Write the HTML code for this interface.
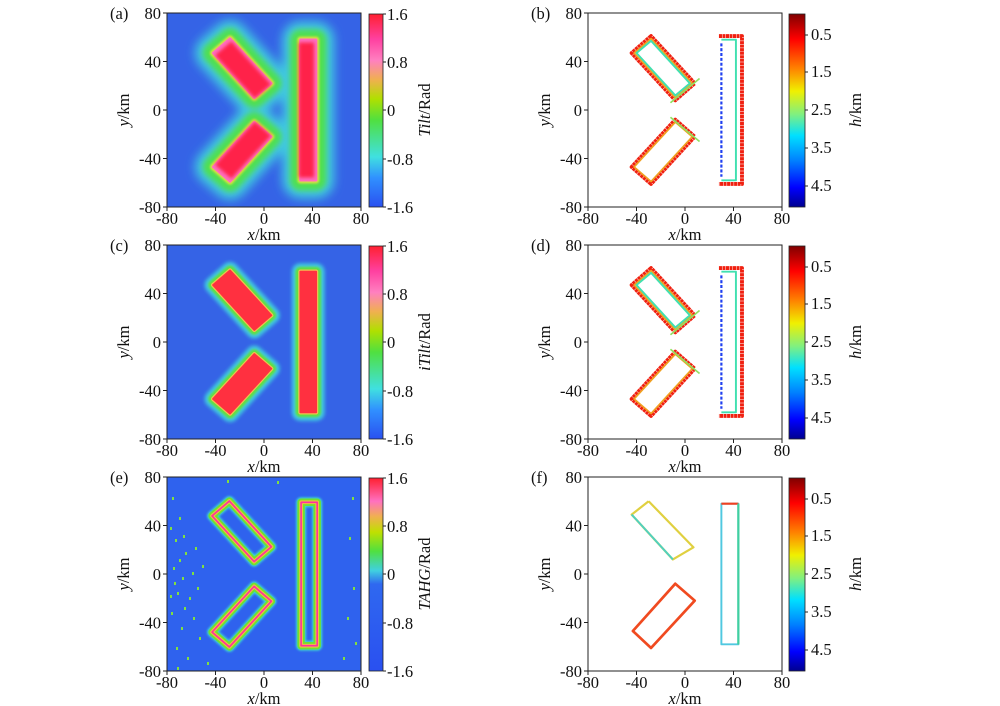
<!DOCTYPE html>
<html><head><meta charset="utf-8"><style>
html,body{margin:0;padding:0;background:#fff}
svg{display:block}
text{font-family:"Liberation Serif",serif;font-size:16.5px;fill:#111}
</style></head><body>
<svg width="1000" height="706" viewBox="0 0 1000 706" xmlns="http://www.w3.org/2000/svg">
<defs>
<linearGradient id="gL" x1="0" y1="1" x2="0" y2="0">
<stop offset="0" stop-color="#2a50f0"/><stop offset="0.15" stop-color="#3090ff"/><stop offset="0.26" stop-color="#40e0e0"/><stop offset="0.45" stop-color="#50e040"/><stop offset="0.56" stop-color="#b0e000"/><stop offset="0.66" stop-color="#f0b050"/><stop offset="0.76" stop-color="#ff80c0"/><stop offset="0.87" stop-color="#ff40a0"/><stop offset="1" stop-color="#ff2030"/>
</linearGradient>
<linearGradient id="gE" x1="0" y1="1" x2="0" y2="0">
<stop offset="0" stop-color="#2a50f0"/><stop offset="0.45" stop-color="#2f68f0"/><stop offset="0.52" stop-color="#40d0e0"/><stop offset="0.62" stop-color="#50e040"/><stop offset="0.72" stop-color="#c0e000"/><stop offset="0.8" stop-color="#f0b050"/><stop offset="0.88" stop-color="#ff70c0"/><stop offset="1" stop-color="#ff2030"/>
</linearGradient>
<linearGradient id="gR" x1="0" y1="0" x2="0" y2="1">
<stop offset="0" stop-color="#800000"/><stop offset="0.13" stop-color="#ff0000"/><stop offset="0.28" stop-color="#ff8000"/><stop offset="0.4" stop-color="#f0f000"/><stop offset="0.52" stop-color="#80f080"/><stop offset="0.63" stop-color="#00e0ff"/><stop offset="0.76" stop-color="#0080ff"/><stop offset="0.9" stop-color="#0000ff"/><stop offset="1" stop-color="#000090"/>
</linearGradient>
<clipPath id="cp"><rect x="0" y="0" width="194" height="194"/></clipPath>
<filter id="b6" x="-50%" y="-50%" width="200%" height="200%"><feGaussianBlur stdDeviation="4"/></filter>
<filter id="b4" x="-50%" y="-50%" width="200%" height="200%"><feGaussianBlur stdDeviation="2.5"/></filter>
<filter id="b2" x="-50%" y="-50%" width="200%" height="200%"><feGaussianBlur stdDeviation="1.5"/></filter>
<filter id="b1" x="-50%" y="-50%" width="200%" height="200%"><feGaussianBlur stdDeviation="0.8"/></filter>
<g id="shapes">
<polygon points="-28,59 -42,47 -8,10 6,22"/>
<polygon points="-28,-59 -42,-47 -8,-10 6,-22"/>
<polygon points="30,58 43,58 43,-58 30,-58"/>
</g>
<g id="axes">
<rect x="0" y="0" width="194" height="194" fill="none" stroke="#222" stroke-width="1"/>
<path d="M0,194v4M48.5,194v4M97,194v4M145.5,194v4M194,194v4M0,0h-4M0,48.5h-4M0,97h-4M0,145.5h-4M0,194h-4" stroke="#222"/>
<text x="-6" y="6" text-anchor="end">80</text>
<text x="-6" y="54.5" text-anchor="end">40</text>
<text x="-6" y="103" text-anchor="end">0</text>
<text x="-6" y="151.5" text-anchor="end">-40</text>
<text x="-6" y="200" text-anchor="end">-80</text>
<text x="0" y="211" text-anchor="middle">-80</text>
<text x="48.5" y="211" text-anchor="middle">-40</text>
<text x="97" y="211" text-anchor="middle">0</text>
<text x="145.5" y="211" text-anchor="middle">40</text>
<text x="194" y="211" text-anchor="middle">80</text>
<text x="97" y="227" text-anchor="middle"><tspan font-style="italic">x</tspan>/km</text>
<text transform="translate(-38,97) rotate(-90)" text-anchor="middle"><tspan font-style="italic">y</tspan>/km</text>
</g>
<g id="cbL">
<rect x="202" y="1" width="14" height="193" fill="url(#gL)" stroke="#222" stroke-width="0.8"/>
<path d="M216,1h3M216,49h3M216,97h3M216,146h3M216,194h3" stroke="#222"/>
<text x="220" y="7">1.6</text><text x="220" y="55">0.8</text><text x="220" y="103">0</text><text x="220" y="152">-0.8</text><text x="220" y="200">-1.6</text>
</g>
<g id="cbR">
<rect x="201" y="1" width="16" height="193" fill="url(#gR)" stroke="#222" stroke-width="0.8"/>
<path d="M217,22h3M217,59h3M217,97h3M217,135h3M217,173h3" stroke="#222"/>
<text x="223" y="27">0.5</text><text x="223" y="64">1.5</text><text x="223" y="102">2.5</text><text x="223" y="140">3.5</text><text x="223" y="178">4.5</text>
<text transform="translate(273,97) rotate(-90)" text-anchor="middle"><tspan font-style="italic">h</tspan>/km</text>
</g>
<g id="scat" fill="none" stroke-linejoin="round">
<g stroke="#f02010" stroke-width="3.2" stroke-dasharray="2.5 0.4">
<polygon points="-28,61 -44,47 -8,8 8,22"/>
<polygon points="-28,-61 -44,-47 -8,-8 8,-22"/>
<path d="M28,61H47V-61H28"/>
</g>
<g stroke="#f0a020" stroke-width="1.4">
<polygon points="-28,59 -42,47 -8,10 6,22"/>
<polygon points="-28,-59 -42,-47 -8,-10 6,-22"/>
</g>
<g stroke="#40e0b0" stroke-width="1.6">
<polygon points="-28,57 -40,47 -8,12 4,22"/>
<path d="M30,58H42V-58H30"/>
</g>
<path d="M30,55V-55" stroke="#2040f0" stroke-width="1.8" stroke-dasharray="2.5 1.5"/>
<path d="M12,26L-12,6M12,-26L-12,-6" stroke="#90e060" stroke-width="1.4"/>
</g>
</defs>

<!-- (a) -->
<text x="110" y="19">(a)</text>
<g transform="translate(167,13)">
<g clip-path="url(#cp)">
<rect width="194" height="194" fill="#3563e6"/>
<g transform="translate(97,97) scale(1.2125,-1.2125)" stroke-linejoin="round">
<use href="#shapes" fill="#40c8e0" stroke="#40c8e0" stroke-width="30" filter="url(#b6)"/>
<use href="#shapes" fill="#50e050" stroke="#50e050" stroke-width="17" filter="url(#b4)"/>
<use href="#shapes" fill="#e0e040" stroke="#e0e040" stroke-width="5" filter="url(#b1)"/>
<use href="#shapes" fill="#ff70c0" stroke="#ff70c0" stroke-width="2"/>
<use href="#shapes" fill="#ff2048" filter="url(#b2)" transform="scale(0.96)"/>
</g>
</g>
<use href="#axes"/><use href="#cbL"/>
<text transform="translate(263,97) rotate(-90)" text-anchor="middle"><tspan font-style="italic">Tilt</tspan>/Rad</text>
</g>

<!-- (c) -->
<text x="110" y="251">(c)</text>
<g transform="translate(167,245)">
<g clip-path="url(#cp)">
<rect width="194" height="194" fill="#3563e6"/>
<g transform="translate(97,97) scale(1.2125,-1.2125)" stroke-linejoin="round">
<use href="#shapes" fill="#40c8e0" stroke="#40c8e0" stroke-width="14" filter="url(#b2)"/>
<use href="#shapes" fill="#60e040" stroke="#60e040" stroke-width="8" filter="url(#b1)"/>
<use href="#shapes" fill="#f0c050" stroke="#f0c050" stroke-width="3.5"/>
<use href="#shapes" fill="#ff3040" stroke="#ff3040" stroke-width="1.5"/>
</g>
</g>
<use href="#axes"/><use href="#cbL"/>
<text transform="translate(263,97) rotate(-90)" text-anchor="middle"><tspan font-style="italic">iTilt</tspan>/Rad</text>
</g>

<!-- (e) -->
<text x="110" y="483">(e)</text>
<g transform="translate(167,477)">
<g clip-path="url(#cp)">
<rect width="194" height="194" fill="#2f62ee"/>
<g fill="#80e040">
<rect x="5" y="20" width="2" height="3"/><rect x="12" y="40" width="2" height="3"/><rect x="8" y="62" width="2" height="3"/><rect x="18" y="75" width="2" height="3"/><rect x="6" y="90" width="2" height="3"/><rect x="15" y="100" width="2" height="3"/><rect x="25" y="95" width="2" height="3"/><rect x="10" y="115" width="2" height="3"/><rect x="22" y="120" width="2" height="3"/><rect x="4" y="135" width="2" height="3"/><rect x="14" y="150" width="2" height="3"/><rect x="9" y="170" width="2" height="3"/><rect x="20" y="180" width="2" height="3"/><rect x="30" y="110" width="2" height="3"/><rect x="3" y="50" width="2" height="3"/><rect x="28" y="70" width="2" height="3"/><rect x="17" y="130" width="2" height="3"/><rect x="35" y="88" width="2" height="3"/><rect x="7" y="105" width="2" height="3"/><rect x="40" y="185" width="2" height="3"/><rect x="185" y="20" width="2" height="3"/><rect x="180" y="140" width="2" height="3"/><rect x="188" y="165" width="2" height="3"/><rect x="176" y="180" width="2" height="3"/><rect x="60" y="3" width="2" height="3"/><rect x="110" y="4" width="2" height="3"/>
<rect x="12" y="82" width="2" height="3"/><rect x="3" y="118" width="2" height="3"/><rect x="26" y="140" width="2" height="3"/><rect x="16" y="58" width="2" height="3"/><rect x="32" y="160" width="2" height="3"/><rect x="10" y="190" width="2" height="3"/><rect x="182" y="60" width="2" height="3"/><rect x="186" y="110" width="2" height="3"/>
</g>
<g transform="translate(97,97) scale(1.2125,-1.2125)" stroke-linejoin="round" fill="none">
<use href="#shapes" stroke="#40d8d0" stroke-width="8" filter="url(#b1)" transform="scale(1.02)"/>
<use href="#shapes" stroke="#70e030" stroke-width="6" transform="scale(1.02)"/>
<use href="#shapes" stroke="#f0c040" stroke-width="3" transform="scale(1.02)"/>
<use href="#shapes" stroke="#ff30a0" stroke-width="1.3" transform="scale(1.02)"/>
</g>
</g>
<use href="#axes"/>
<g>
<rect x="202" y="1" width="14" height="193" fill="url(#gE)" stroke="#222" stroke-width="0.8"/>
<path d="M216,1h3M216,49h3M216,97h3M216,146h3M216,194h3" stroke="#222"/>
<text x="220" y="7">1.6</text><text x="220" y="55">0.8</text><text x="220" y="103">0</text><text x="220" y="152">-0.8</text><text x="220" y="200">-1.6</text>
</g>
<text transform="translate(263,97) rotate(-90)" text-anchor="middle"><tspan font-style="italic">TAHG</tspan>/Rad</text>
</g>

<!-- (b) -->
<text x="531" y="19">(b)</text>
<g transform="translate(588,13)">
<rect width="194" height="194" fill="#fff"/>
<g transform="translate(97,97) scale(1.2125,-1.2125)"><use href="#scat"/></g>
<use href="#axes"/><use href="#cbR"/>
</g>

<!-- (d) -->
<text x="531" y="251">(d)</text>
<g transform="translate(588,245)">
<rect width="194" height="194" fill="#fff"/>
<g transform="translate(97,97) scale(1.2125,-1.2125)"><use href="#scat"/></g>
<use href="#axes"/><use href="#cbR"/>
</g>

<!-- (f) -->
<text x="531" y="483">(f)</text>
<g transform="translate(588,477)">
<rect width="194" height="194" fill="#fff"/>
<g transform="translate(97,97) scale(1.2125,-1.2125)" fill="none" stroke-linejoin="round">
<path d="M-30,60L-44,49L-10,12L7,22L-30,60" stroke="#e0d040" stroke-width="1.8"/>
<path d="M-10,12L-44,49" stroke="#50d0c0" stroke-width="1.6"/>
<polygon points="-28,-61 -43,-47 -8,-8 8,-22" stroke="#f04a20" stroke-width="2.2"/>
<path d="M30,58H44V-58H30Z" stroke="#50c8e0" stroke-width="1.6"/>
<path d="M30,58H44" stroke="#f04020" stroke-width="1.8"/>
<path d="M44,58V-58" stroke="#40d0a0" stroke-width="1.8"/>
</g>
<use href="#axes"/><use href="#cbR"/>
</g>
</svg>
</body></html>
